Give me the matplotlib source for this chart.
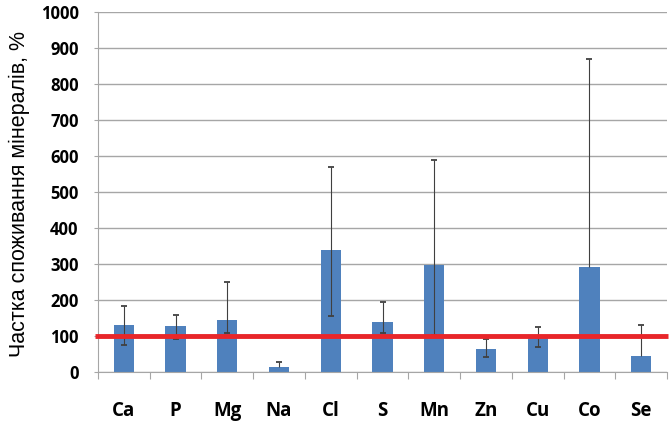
import numpy as np
import matplotlib
matplotlib.use('Agg')
import matplotlib.pyplot as plt
import matplotlib.transforms as mtransforms

# mineral intake share, % of norm
elements = ['Ca', 'P', 'Mg', 'Na', 'Cl', 'S', 'Mn', 'Zn', 'Cu', 'Co', 'Se']
values   = [130, 128, 145, 16, 340, 140, 297, 65, 99, 292, 46]
err_up   = [55, 30, 107, 13, 229, 56, 293, 27, 28, 578, 84]
err_down = [55, 36, 37, 0, 183, 30, 193, 23, 30, 0, 0]
norm_level = 100
yticks = [0, 100, 200, 300, 400, 500, 600, 700, 800, 900, 1000]

bar_color = '#4f81bd'
grid_color = '#a6a6a6'
err_color = '#404040'

fig = plt.figure(figsize=(6.72, 4.21), dpi=100)
ax = fig.add_axes([0.1458, 0.1157, 0.8468, 0.8551])

x = np.arange(len(elements))
vals = np.array(values)
up = vals + np.array(err_up)
lo = vals - np.array(err_down)
ax.bar(x, vals, width=0.39, color=bar_color, zorder=2)

# error bars, caps only where the bar has an error on that side
ax.vlines(x, lo, up, color=err_color, lw=0.8, zorder=3)
m_up = np.array(err_up) > 0
m_lo = np.array(err_down) > 0
ax.plot(x[m_up], up[m_up], ls='none', marker='_', ms=4, mew=1.3, color=err_color, zorder=3)
ax.plot(x[m_lo], lo[m_lo], ls='none', marker='_', ms=4, mew=1.3, color=err_color, zorder=3)

# norm line (100 %)
trans = mtransforms.blended_transform_factory(ax.transAxes, ax.transData)
ax.plot([-0.006, 1.002], [norm_level, norm_level], color='#e8262a', lw=3.5,
        transform=trans, clip_on=False, zorder=4, solid_capstyle='butt')

ax.set_xlim(-0.5, len(elements) - 0.5)
ax.set_ylim(0, 1000)
ax.set_yticks(yticks)
ax.yaxis.grid(True, color=grid_color, lw=1)
ax.set_axisbelow(True)

# ticks between categories, labels centred
ax.set_xticks(np.arange(len(elements) + 1) - 0.5)
ax.set_xticklabels([])
ax.set_xticks(x, minor=True)
ax.set_xticklabels(elements, minor=True, fontsize=13.5, fontweight='bold',
                   family='Open Sans')
ax.tick_params(axis='x', which='major', length=5, color=grid_color, direction='out')
ax.tick_params(axis='x', which='minor', length=0, pad=21)
ax.tick_params(axis='y', length=3, color=grid_color, pad=11)
for lab in ax.get_yticklabels():
    lab.set_fontweight('bold')
    lab.set_fontsize(12)
    lab.set_family('Open Sans')

for s in ['top', 'right']:
    ax.spines[s].set_visible(False)
ax.spines['left'].set_color(grid_color)
ax.spines['bottom'].set_color(grid_color)

ax.set_ylabel('Частка споживання мінералів, %', fontsize=15.5,
              family='Liberation Sans')
ax.yaxis.set_label_coords(-0.12, 0.495)

plt.savefig('out.png', dpi=100)
